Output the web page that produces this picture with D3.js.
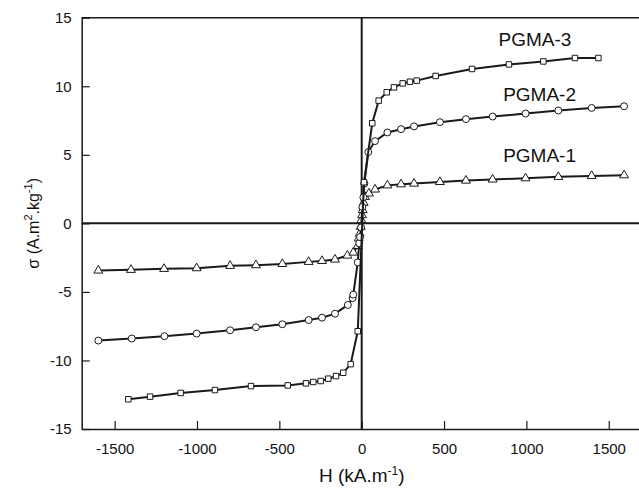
<!DOCTYPE html>
<html>
<head>
<meta charset="utf-8">
<script src="https://cdn.jsdelivr.net/npm/d3@7"></script>
<style>
  body { margin: 0; background: #fff; }
  svg { display: block; font-family: "Liberation Sans", Arial, sans-serif; }
</style>
</head>
<body>
<div class="chart"></div>
<script>
// H in kA/m, sigma in A.m2/kg
const pgma1H = [-1599, -1401, -1200, -1002, -799, -642, -482, -322, -241, -162, -87, -51, -24, -18, -12, -6, -2, 2, 6, 12, 20, 44, 81, 156, 239, 318, 475, 633, 795, 995, 1194, 1396, 1593];
const pgma1S = [-3.44, -3.39, -3.32, -3.27, -3.10, -3.05, -2.96, -2.81, -2.74, -2.64, -2.35, -2.13, -1.65, -1.10, -0.75, -0.25, 0.24, 0.60, 0.97, 1.50, 1.93, 2.18, 2.47, 2.77, 2.85, 2.90, 3.02, 3.12, 3.20, 3.29, 3.39, 3.46, 3.51];

const pgma2H = [-1599, -1396, -1198, -1002, -799, -642, -482, -322, -241, -162, -84, -55, -51, -24, -15, -10, -4, 4, 10, 16, 40, 81, 156, 239, 318, 475, 633, 795, 995, 1194, 1396, 1593];
const pgma2S = [-8.55, -8.40, -8.23, -8.04, -7.80, -7.58, -7.36, -7.05, -6.88, -6.59, -5.95, -5.45, -5.20, -2.85, -1.45, -1.0, -0.3, 1.2, 1.9, 2.9, 5.2, 6.0, 6.63, 6.87, 7.07, 7.38, 7.60, 7.79, 8.01, 8.23, 8.42, 8.54];

const pgma3H = [-1417, -1285, -1099, -891, -672, -449, -338, -294, -249, -203, -156, -112, -67, -24, 14, 64, 103, 152, 196, 249, 293, 334, 449, 670, 894, 1103, 1295, 1437];
const pgma3S = [-12.83, -12.64, -12.37, -12.16, -11.87, -11.82, -11.67, -11.57, -11.50, -11.33, -11.14, -10.90, -10.27, -7.87, 3.0, 7.3, 8.95, 9.56, 9.92, 10.21, 10.33, 10.41, 10.75, 11.26, 11.59, 11.81, 12.06, 12.06];

const xTicks = [-1500, -1000, -500, 0, 500, 1000, 1500];
const yTicks = [-15, -10, -5, 0, 5, 10, 15];

const series = [
  { name: "PGMA-1", h: pgma1H, s: pgma1S, symbol: d3.symbolTriangle, size: 34, labelAt: [1080, 4.45] },
  { name: "PGMA-2", h: pgma2H, s: pgma2S, symbol: d3.symbolCircle, size: 38, labelAt: [1080, 8.95] },
  { name: "PGMA-3", h: pgma3H, s: pgma3S, symbol: d3.symbolSquare, size: 30, labelAt: [1052, 12.95] }
];

function drawChart() {
  const width = 639;
  const height = 489;
  const margin = { top: 17.7, bottom: 60, left: 81.7 };

  const x = d3.scaleLinear().domain([-1700, 1700]).range([margin.left, 641.7]);
  const y = d3.scaleLinear().domain([-15, 15]).range([height - margin.bottom, margin.top]);

  const svg = d3.select(".chart")
    .append("svg")
    .attr("width", width)
    .attr("height", height);

  const ink = "#1a1a1a";

  // frame: top line
  svg.append("line")
    .attr("x1", x(-1700)).attr("x2", width)
    .attr("y1", y(15)).attr("y2", y(15))
    .attr("stroke", ink).attr("stroke-width", 1.5);

  // zero lines
  svg.append("line")
    .attr("x1", x(-1700)).attr("x2", width)
    .attr("y1", y(0)).attr("y2", y(0))
    .attr("stroke", ink).attr("stroke-width", 2);
  svg.append("line")
    .attr("x1", x(0)).attr("x2", x(0))
    .attr("y1", y(15)).attr("y2", y(-15))
    .attr("stroke", ink).attr("stroke-width", 2);

  // axes with inward ticks
  const fmt = d => String(d);
  const xAxis = svg.append("g")
    .attr("transform", `translate(0,${y(-15)})`)
    .call(d3.axisBottom(x).tickValues(xTicks).tickFormat(fmt).tickSize(-8).tickPadding(14).tickSizeOuter(0));
  const yAxis = svg.append("g")
    .attr("transform", `translate(${x(-1700)},0)`)
    .call(d3.axisLeft(y).tickValues(yTicks).tickFormat(fmt).tickSize(-8).tickPadding(10).tickSizeOuter(0));

  [xAxis, yAxis].forEach(g => {
    g.select(".domain").attr("stroke", ink).attr("stroke-width", 1.5);
    g.selectAll(".tick line").attr("stroke", ink).attr("stroke-width", 1.2);
    g.selectAll(".tick text")
      .attr("fill", "#111")
      .style("font-size", "15px")
      .style("font-family", "'Liberation Sans', Arial, sans-serif");
  });
  yAxis.selectAll(".tick text").attr("x", -10);

  // curves
  const line = d3.line().x(d => x(d[0])).y(d => y(d[1]));

  series.forEach(sr => {
    const pts = sr.h.map((h, i) => [h, sr.s[i]]);
    svg.append("path")
      .datum(pts)
      .attr("d", line)
      .attr("fill", "none")
      .attr("stroke", ink)
      .attr("stroke-width", 2);

    svg.append("g")
      .selectAll("path")
      .data(pts)
      .enter()
      .append("path")
      .attr("transform", d => `translate(${x(d[0])},${y(d[1])})`)
      .attr("d", d3.symbol().type(sr.symbol).size(sr.size))
      .attr("fill", "#fff")
      .attr("stroke", ink)
      .attr("stroke-width", 1);

    svg.append("text")
      .attr("x", x(sr.labelAt[0]))
      .attr("y", y(sr.labelAt[1]))
      .attr("text-anchor", "middle")
      .style("font-size", "19px")
      .attr("fill", "#111")
      .text(sr.name);
  });

  // axis titles
  const xt = svg.append("text")
    .attr("x", x(0))
    .attr("y", 482)
    .attr("text-anchor", "middle")
    .style("font-size", "19px")
    .attr("fill", "#111");
  xt.append("tspan").text("H (kA.m");
  xt.append("tspan").attr("dy", -7).style("font-size", "12px").text("-1");
  xt.append("tspan").attr("dy", 7).text(")");

  const yt = svg.append("text")
    .attr("transform", `translate(39,${y(0)}) rotate(-90)`)
    .attr("text-anchor", "middle")
    .style("font-size", "16px")
    .attr("fill", "#111");
  yt.append("tspan").text("σ (A.m");
  yt.append("tspan").attr("dy", -7).style("font-size", "11px").text("2");
  yt.append("tspan").attr("dy", 7).text(".kg");
  yt.append("tspan").attr("dy", -7).style("font-size", "11px").text("-1");
  yt.append("tspan").attr("dy", 7).text(")");
}

drawChart();
</script>
</body>
</html>
